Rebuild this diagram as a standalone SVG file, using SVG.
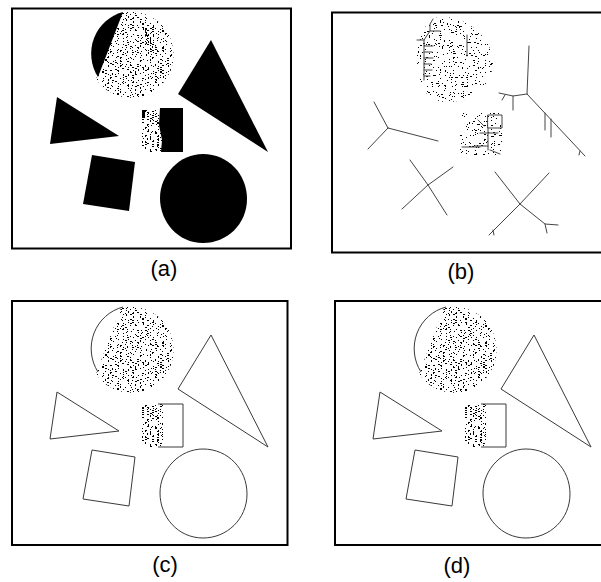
<svg xmlns="http://www.w3.org/2000/svg" xmlns:xlink="http://www.w3.org/1999/xlink" width="601" height="582" viewBox="0 0 601 582">
<style>
.frame{fill:none;stroke:#000;stroke-width:2}
.lbl{font-family:"Liberation Sans",Arial,sans-serif;font-size:22px;fill:#000;text-anchor:middle}
.solid{fill:#000;stroke:none}
.outl{fill:none;stroke:#3a3a3a;stroke-width:1;stroke-linejoin:round}
.skel{fill:none;stroke:#444;stroke-width:1;stroke-linecap:round;stroke-linejoin:round}
.sp{fill:#000;stroke:none;filter:url(#spk)}
.sp2{fill:#000;stroke:none;filter:url(#spk2)}
.sp3{fill:#000;stroke:none;filter:url(#spk3)}
</style>
<defs>
<filter id="spk" filterUnits="userSpaceOnUse" x="-50" y="-50" width="700" height="700" color-interpolation-filters="sRGB">
<feTurbulence type="fractalNoise" baseFrequency="0.4 1.0" numOctaves="2" seed="5" result="n"/>
<feColorMatrix in="n" type="matrix" values="0 0 0 0 0 0 0 0 0 0 0 0 0 0 0 8 0 0 0 -4.42"/>
<feComponentTransfer><feFuncA type="discrete" tableValues="0 1"/></feComponentTransfer>
<feComposite in2="SourceGraphic" operator="in"/>
</filter>
<filter id="spk2" filterUnits="userSpaceOnUse" x="-50" y="-50" width="700" height="700" color-interpolation-filters="sRGB">
<feTurbulence type="fractalNoise" baseFrequency="0.45 1.1" numOctaves="2" seed="11" result="n"/>
<feColorMatrix in="n" type="matrix" values="0 0 0 0 0 0 0 0 0 0 0 0 0 0 0 8 0 0 0 -4.9"/>
<feComponentTransfer><feFuncA type="discrete" tableValues="0 1"/></feComponentTransfer>
<feComposite in2="SourceGraphic" operator="in"/>
</filter>
<filter id="spk3" filterUnits="userSpaceOnUse" x="-50" y="-50" width="700" height="700" color-interpolation-filters="sRGB">
<feTurbulence type="fractalNoise" baseFrequency="0.4 1.0" numOctaves="2" seed="3" result="n"/>
<feColorMatrix in="n" type="matrix" values="0 0 0 0 0 0 0 0 0 0 0 0 0 0 0 8 0 0 0 -4.2"/>
<feComponentTransfer><feFuncA type="discrete" tableValues="0 1"/></feComponentTransfer>
<feComposite in2="SourceGraphic" operator="in"/>
</filter>
<path id="topBlack" d="M123,12 A42.5,43 0 0,0 98,77 Z"/>
<path id="topArc" d="M123,12 A42.5,43 0 0,0 98,77"/>
<path id="topSpeck" d="M121,13 A42.5,43 0 1,1 96,79 Z"/>
<path id="streak" d="M145,28 L154,28 L156,54 L146,54 Z"/>
<path id="bigTri" d="M211,40 L178,94 L268,152 Z"/>
<path id="smallTri" d="M57,97 L50,144 L119,136 Z"/>
<path id="sq" d="M92,155 L135,162 L129,211 L83,204 Z"/>
<path id="bigCirc" d="M203,154 C228,154 247,174 247,199 C247,224 227,243 203,243 C178,243 160,222 160,198 C160,174 180,154 203,154 Z"/>
<path id="csqBlack" d="M160,108 L183,108 L183,152 L161,152 L162,140 L159,125 Z"/>
<path id="csqSpeck" d="M142,109 L163,109 L163,152 L142,152 Z"/>
<path id="csqOut" d="M158,109 L183,109 L183,152 L158,152"/>
</defs>

<g id="panel-a">
<rect class="frame" x="12" y="8.5" width="279" height="240"/>
<use xlink:href="#topBlack" class="solid"/>
<use xlink:href="#topSpeck" class="sp"/>
<use xlink:href="#streak" class="sp3"/>
<use xlink:href="#bigTri" class="solid"/>
<use xlink:href="#smallTri" class="solid"/>
<use xlink:href="#csqSpeck" class="sp3"/>
<use xlink:href="#csqBlack" class="solid"/>
<rect class="solid" x="142" y="110" width="3" height="8"/>
<use xlink:href="#sq" class="solid"/>
<use xlink:href="#bigCirc" class="solid"/>
<text class="lbl" x="164" y="276">(a)</text>
</g>

<g id="panel-b">
<rect class="frame" x="332" y="12.5" width="280" height="240"/>
<path class="sp2" d="M440,17 C468,15 493,40 493,62 C493,86 470,103 446,102 C428,101 417,88 417,60 C417,40 425,18 440,17 Z"/>
<path class="sp2" d="M460,113 L502,113 L502,155 L460,155 Z"/>
<g class="skel">
<path d="M433,19 L430,24 L430,31 L440,31 M430,31 L426,37 L424,40 L424,80 M417,40 L424,40 M424,46 L433,46 M424,52 L432,52 M424,58 L433,58 M424,64 L431,64 M424,70 L432,70 M424,76 L430,76 M467,35 L467,56"/>
<path d="M488,115 L502,115 L502,128 L488,128 Z M480,133 L498,133 M488,128 L488,150 M475,146 L488,146 M490,150 L500,154 M462,147 L480,147 M478,120 L484,126"/>
<path d="M529,46 L528,70 L527,94 L585,156 M527,94 L513,96 L499,93 M513,96 L513,110 M505,95 L502,100 M545,113 L545,130 M551,119 L551,137 M580,151 L579,155"/>
<path d="M388,128 L374,102 M388,128 L368,149 M388,128 L438,141"/>
<path d="M410,160 L428,185 L453,167 M428,185 L402,209 M428,185 L447,215"/>
<path d="M520,204 L495,172 M520,204 L549,173 M520,204 L489,235 M520,204 L545,224 L558,225 M545,224 L547,233 M493,230 L494,235"/>
</g>
<text class="lbl" x="461" y="279">(b)</text>
</g>

<g id="panel-c">
<rect class="frame" x="12" y="301" width="275.5" height="244"/>
<g transform="translate(0,295)">
<use xlink:href="#topArc" class="outl"/>
<use xlink:href="#topSpeck" class="sp"/>
<use xlink:href="#streak" class="sp"/>
<use xlink:href="#bigTri" class="outl"/>
<use xlink:href="#smallTri" class="outl"/>
<use xlink:href="#csqSpeck" class="sp3"/>
<use xlink:href="#csqOut" class="outl"/>
<use xlink:href="#sq" class="outl"/>
<use xlink:href="#bigCirc" class="outl"/>
</g>
<text class="lbl" x="165" y="572">(c)</text>
</g>

<g id="panel-d">
<rect class="frame" x="335" y="301" width="280" height="244"/>
<g transform="translate(323,295)">
<use xlink:href="#topArc" class="outl"/>
<use xlink:href="#topSpeck" class="sp"/>
<use xlink:href="#streak" class="sp"/>
<use xlink:href="#bigTri" class="outl"/>
<use xlink:href="#smallTri" class="outl"/>
<use xlink:href="#csqSpeck" class="sp3"/>
<use xlink:href="#csqOut" class="outl"/>
<use xlink:href="#sq" class="outl"/>
<use xlink:href="#bigCirc" class="outl"/>
</g>
<text class="lbl" x="457" y="573">(d)</text>
</g>
</svg>
